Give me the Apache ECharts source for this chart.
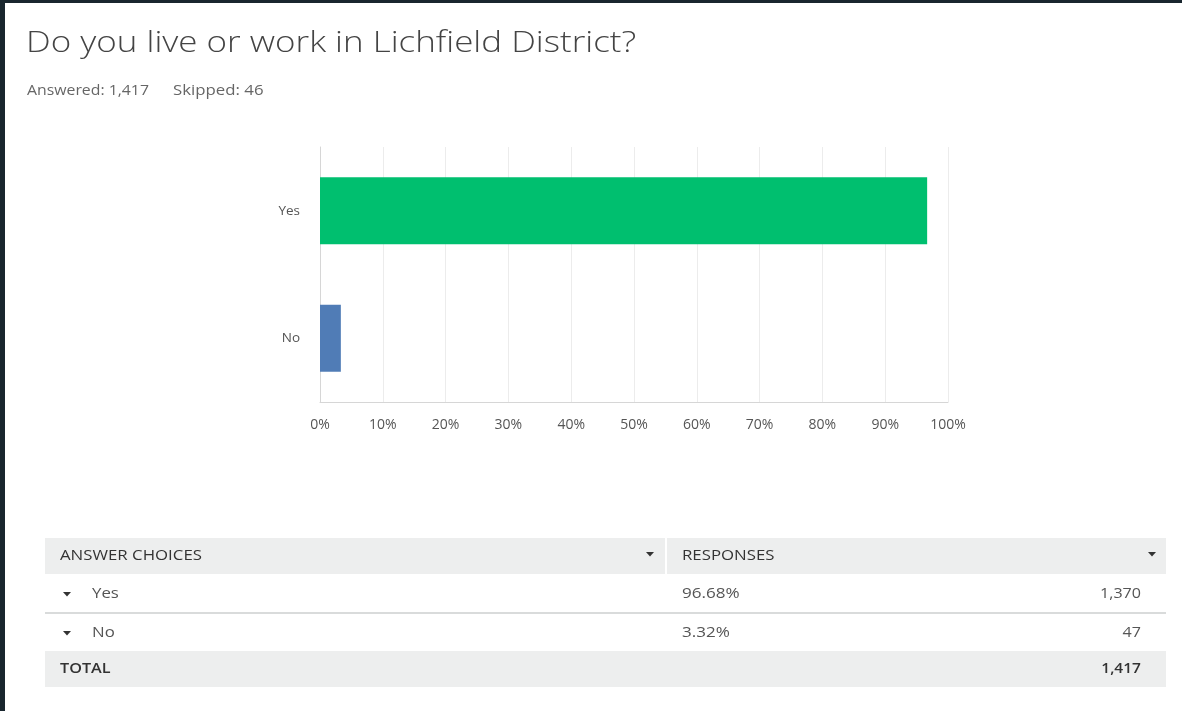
<!DOCTYPE html>
<html>
<head>
<meta charset="utf-8">
<script src="https://cdn.jsdelivr.net/npm/echarts@6/dist/echarts.min.js"></script>
<style>
html,body{margin:0;padding:0;background:#19262e;}
#c{width:1182px;height:711px;}
</style>
</head>
<body>
<div id="c"></div>
<script>
const titleText = 'Do you live or work in Lichfield District?';
const categories = ['Yes', 'No'];
const percentValues = [96.68, 3.32];
const responseCounts = [1370, 47];
const totalResponses = 1417;
const skippedCount = 46;
const xTicks = [0, 10, 20, 30, 40, 50, 60, 70, 80, 90, 100];
const barColors = ['#00bf6f', '#507cb6'];

const chart = echarts.init(document.getElementById('c'), null, {renderer: 'canvas'});
const FONT = '"Open Sans", "Noto Sans", sans-serif';
const fmt = n => n.toLocaleString('en-US');

const tableLeft = 45, tableRight = 1166, colSplit = 666;
const headerTop = 538, headerH = 36, rowH = 38;
const SX = 1.2;

function tri(x, y, color) {
  return {type: 'polygon', shape: {points: [[x - 4, y - 2], [x + 4, y - 2], [x, y + 2.5]]}, style: {fill: color || '#333'}};
}
function txt(x, y, text, font, fill, align, sx) {
  return {type: 'text', x: x, y: y, scaleX: sx || SX,
    style: {text: text, font: font, fill: fill, align: align || 'left', verticalAlign: 'middle'}};
}

const g = [];
// white page
g.push({type: 'rect', shape: {x: 5, y: 3, width: 1177, height: 708}, style: {fill: '#ffffff'}, z: -10});
// title
g.push(txt(26, 44, titleText, '300 29px ' + FONT, '#444', 'left', 1.205));
// subtitle
g.push(txt(27, 91, 'Answered: ' + fmt(totalResponses), '14px ' + FONT, '#666', 'left', 1.13));
g.push(txt(173, 91, 'Skipped: ' + skippedCount, '14px ' + FONT, '#666', 'left', 1.2));
// header
g.push({type: 'rect', shape: {x: tableLeft, y: headerTop, width: colSplit - tableLeft - 1, height: headerH}, style: {fill: '#edeeee'}});
g.push({type: 'rect', shape: {x: colSplit + 1, y: headerTop, width: tableRight - colSplit - 1, height: headerH}, style: {fill: '#edeeee'}});
g.push(txt(60, headerTop + headerH / 2, 'ANSWER CHOICES', '14px ' + FONT, '#333'));
g.push(tri(650, headerTop + headerH / 2 - 2));
g.push(txt(682, headerTop + headerH / 2, 'RESPONSES', '14px ' + FONT, '#333'));
g.push(tri(1152, headerTop + headerH / 2 - 2));
// rows
categories.forEach((c, i) => {
  const top = headerTop + headerH + i * (rowH + 1);
  const mid = top + rowH / 2 + 1;
  g.push(tri(67, mid, '#333'));
  g.push(txt(92, mid, c, '14px ' + FONT, '#555'));
  g.push(txt(682, mid, percentValues[i].toFixed(2) + '%', '14px ' + FONT, '#555', 'left', 1.22));
  g.push(txt(1141, mid, fmt(responseCounts[i]), '14px ' + FONT, '#555', 'right', 1.15));
  if (i < categories.length - 1) {
    g.push({type: 'rect', shape: {x: tableLeft, y: top + rowH, width: tableRight - tableLeft, height: 2}, style: {fill: '#d9dbdb'}});
  }
});
const totTop = headerTop + headerH + categories.length * (rowH + 1) - 1;
g.push({type: 'rect', shape: {x: tableLeft, y: totTop, width: tableRight - tableLeft, height: 36}, style: {fill: '#edeeee'}});
g.push(txt(60, totTop + 18, 'TOTAL', '600 13.5px ' + FONT, '#333'));
g.push(txt(1141, totTop + 18, fmt(totalResponses), '600 13.5px ' + FONT, '#333', 'right', 1.15));

chart.setOption({
  backgroundColor: '#19262e',
  animation: false,
  grid: {left: 320, right: 234, top: 147, bottom: 309, containLabel: false},
  xAxis: {
    type: 'value', min: 0, max: 100, interval: 10,
    axisLine: {show: true, lineStyle: {color: '#d6d6d6', width: 1}},
    axisTick: {show: false},
    splitLine: {show: true, lineStyle: {color: '#ececec', width: 1}},
    axisLabel: {formatter: v => xTicks.includes(v) ? v + '%' : '', color: '#555', fontSize: 14, fontFamily: FONT, margin: 16}
  },
  yAxis: {
    type: 'category', data: categories, inverse: true,
    axisLine: {show: true, lineStyle: {color: '#d6d6d6', width: 1}},
    axisTick: {show: false},
    axisLabel: {color: '#555', fontSize: 13.5, fontFamily: FONT, margin: 20}
  },
  series: [{
    type: 'bar',
    data: percentValues.map((v, i) => ({value: v, itemStyle: {color: barColors[i]}})),
    barWidth: 67
  }],
  graphic: g
});
</script>
</body>
</html>
